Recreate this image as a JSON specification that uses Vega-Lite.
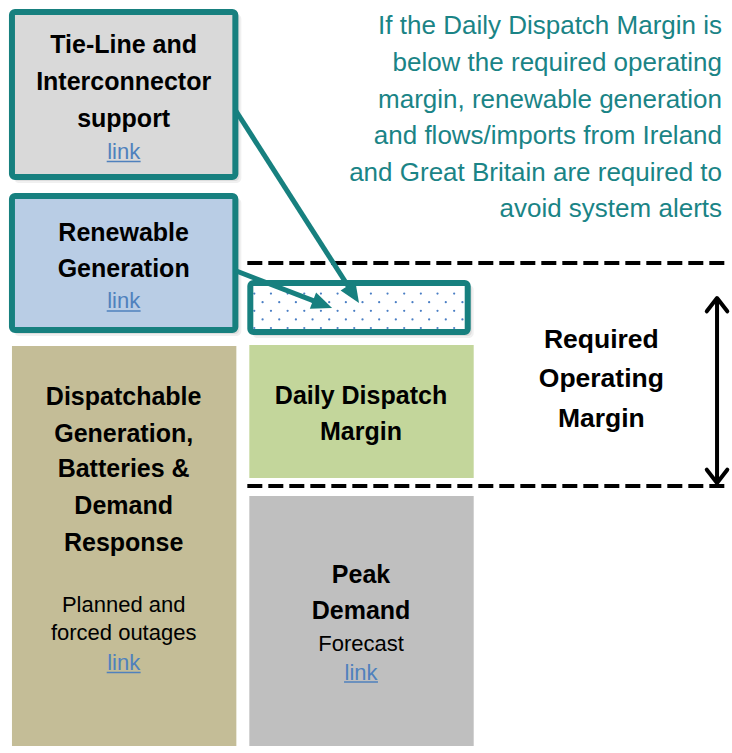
{
  "$schema": "https://vega.github.io/schema/vega-lite/v6.json",
  "width": 732,
  "height": 753,
  "autosize": {"type": "fit", "contains": "padding"},
  "padding": 0,
  "background": "white",
  "config": {"view": {"stroke": null}},
  "datasets": {
    "boxes": [
      {"name": "Tie-Line and Interconnector support", "x": 12, "x2": 236, "y": 12, "y2": 177, "framed": true},
      {"name": "Renewable Generation", "x": 12, "x2": 236, "y": 196, "y2": 330, "framed": true},
      {"name": "Additional support", "x": 251, "x2": 469, "y": 283, "y2": 332, "framed": true},
      {"name": "Dispatchable Generation", "x": 12, "x2": 237, "y": 346, "y2": 746, "framed": false},
      {"name": "Daily Dispatch Margin", "x": 250, "x2": 475, "y": 345, "y2": 478, "framed": false},
      {"name": "Peak Demand", "x": 250, "x2": 475, "y": 496, "y2": 746, "framed": false}
    ],
    "dots": [
      {"x": 263.3, "y": 285}, {"x": 280, "y": 285}, {"x": 296.7, "y": 285}, {"x": 313.4, "y": 285}, {"x": 330.1, "y": 285}, {"x": 346.8, "y": 285}, {"x": 363.5, "y": 285}, {"x": 380.2, "y": 285}, {"x": 396.9, "y": 285}, {"x": 413.6, "y": 285}, {"x": 430.3, "y": 285}, {"x": 447, "y": 285}, {"x": 463.7, "y": 285},
      {"x": 255, "y": 293.6}, {"x": 271.7, "y": 293.6}, {"x": 288.4, "y": 293.6}, {"x": 305.1, "y": 293.6}, {"x": 321.8, "y": 293.6}, {"x": 338.5, "y": 293.6}, {"x": 355.2, "y": 293.6}, {"x": 371.9, "y": 293.6}, {"x": 388.6, "y": 293.6}, {"x": 405.3, "y": 293.6}, {"x": 422, "y": 293.6}, {"x": 438.7, "y": 293.6}, {"x": 455.4, "y": 293.6},
      {"x": 263.3, "y": 302.2}, {"x": 280, "y": 302.2}, {"x": 296.7, "y": 302.2}, {"x": 313.4, "y": 302.2}, {"x": 330.1, "y": 302.2}, {"x": 346.8, "y": 302.2}, {"x": 363.5, "y": 302.2}, {"x": 380.2, "y": 302.2}, {"x": 396.9, "y": 302.2}, {"x": 413.6, "y": 302.2}, {"x": 430.3, "y": 302.2}, {"x": 447, "y": 302.2}, {"x": 463.7, "y": 302.2},
      {"x": 255, "y": 310.8}, {"x": 271.7, "y": 310.8}, {"x": 288.4, "y": 310.8}, {"x": 305.1, "y": 310.8}, {"x": 321.8, "y": 310.8}, {"x": 338.5, "y": 310.8}, {"x": 355.2, "y": 310.8}, {"x": 371.9, "y": 310.8}, {"x": 388.6, "y": 310.8}, {"x": 405.3, "y": 310.8}, {"x": 422, "y": 310.8}, {"x": 438.7, "y": 310.8}, {"x": 455.4, "y": 310.8},
      {"x": 263.3, "y": 319.4}, {"x": 280, "y": 319.4}, {"x": 296.7, "y": 319.4}, {"x": 313.4, "y": 319.4}, {"x": 330.1, "y": 319.4}, {"x": 346.8, "y": 319.4}, {"x": 363.5, "y": 319.4}, {"x": 380.2, "y": 319.4}, {"x": 396.9, "y": 319.4}, {"x": 413.6, "y": 319.4}, {"x": 430.3, "y": 319.4}, {"x": 447, "y": 319.4}, {"x": 463.7, "y": 319.4},
      {"x": 255, "y": 328}, {"x": 271.7, "y": 328}, {"x": 288.4, "y": 328}, {"x": 305.1, "y": 328}, {"x": 321.8, "y": 328}, {"x": 338.5, "y": 328}, {"x": 355.2, "y": 328}, {"x": 371.9, "y": 328}, {"x": 388.6, "y": 328}, {"x": 405.3, "y": 328}, {"x": 422, "y": 328}, {"x": 438.7, "y": 328}, {"x": 455.4, "y": 328}
    ],
    "levels": [
      {"x": 248, "x2": 732, "y": 263},
      {"x": 248, "x2": 732, "y": 486}
    ],
    "shafts": [
      {"x": 236, "y": 110, "x2": 353.5, "y2": 293},
      {"x": 237, "y": 271, "x2": 321.8, "y2": 303.7}
    ],
    "heads": [
      {"x": 360, "y": 303, "dir": 147.3},
      {"x": 333, "y": 308, "dir": 111.1}
    ],
    "span": [{"x": 719, "y": 300, "x2": 719, "y2": 481}],
    "spanHeads": [
      {"x": 719, "y": 298, "dir": 0},
      {"x": 719, "y": 483, "dir": 180}
    ],
    "labels": [
      {"x": 124, "y": 53, "text": "Tie-Line and", "kind": "title"},
      {"x": 124, "y": 90, "text": "Interconnector", "kind": "title"},
      {"x": 124, "y": 127, "text": "support", "kind": "title"},
      {"x": 124, "y": 241, "text": "Renewable", "kind": "title"},
      {"x": 124, "y": 277, "text": "Generation", "kind": "title"},
      {"x": 124, "y": 405, "text": "Dispatchable", "kind": "title"},
      {"x": 124, "y": 442, "text": "Generation,", "kind": "title"},
      {"x": 124, "y": 477, "text": "Batteries &", "kind": "title"},
      {"x": 124, "y": 514, "text": "Demand", "kind": "title"},
      {"x": 124, "y": 551, "text": "Response", "kind": "title"},
      {"x": 362, "y": 404, "text": "Daily Dispatch", "kind": "title"},
      {"x": 362, "y": 440, "text": "Margin", "kind": "title"},
      {"x": 362, "y": 583, "text": "Peak", "kind": "title"},
      {"x": 362, "y": 619, "text": "Demand", "kind": "title"},
      {"x": 603, "y": 348, "text": "Required", "kind": "big"},
      {"x": 603, "y": 387, "text": "Operating", "kind": "big"},
      {"x": 603, "y": 427, "text": "Margin", "kind": "big"},
      {"x": 124, "y": 612, "text": "Planned and", "kind": "body"},
      {"x": 124, "y": 640, "text": "forced outages", "kind": "body"},
      {"x": 362, "y": 651, "text": "Forecast", "kind": "body"},
      {"x": 124, "y": 159, "text": "link", "kind": "link"},
      {"x": 124, "y": 308, "text": "link", "kind": "link"},
      {"x": 124, "y": 670, "text": "link", "kind": "link"},
      {"x": 362, "y": 679.5, "text": "link", "kind": "link"},
      {"x": 724, "y": 34, "text": "If the Daily Dispatch Margin is", "kind": "note"},
      {"x": 724, "y": 71, "text": "below the required operating", "kind": "note"},
      {"x": 724, "y": 108, "text": "margin, renewable generation", "kind": "note"},
      {"x": 724, "y": 144, "text": "and flows/imports from Ireland", "kind": "note"},
      {"x": 724, "y": 181, "text": "and Great Britain are required to", "kind": "note"},
      {"x": 724, "y": 217, "text": "avoid system alerts", "kind": "note"}
    ],
    "underlines": [
      {"x": 107, "x2": 141, "y": 161.5},
      {"x": 107, "x2": 141, "y": 311},
      {"x": 107, "x2": 141, "y": 672.5},
      {"x": 345, "x2": 379, "y": 682}
    ]
  },
  "encoding": {
    "x": {"field": "x", "type": "quantitative", "scale": {"domain": [0, 732], "nice": false, "zero": false}, "axis": null},
    "y": {"field": "y", "type": "quantitative", "scale": {"domain": [0, 753], "nice": false, "zero": false, "reverse": true}, "axis": null}
  },
  "layer": [
    {
      "data": {"name": "boxes"},
      "transform": [{"filter": "datum.framed"}],
      "mark": {"type": "rect", "fill": "#000000", "opacity": 0.06, "cornerRadius": 5, "xOffset": 2, "x2Offset": 6, "yOffset": 2, "y2Offset": 6}
      ,"encoding": {"x2": {"field": "x2"}, "y2": {"field": "y2"}}
    },
    {
      "data": {"name": "boxes"},
      "transform": [{"filter": "datum.framed"}],
      "mark": {"type": "rect", "fill": "#000000", "opacity": 0.08, "cornerRadius": 4, "xOffset": 2, "x2Offset": 4, "yOffset": 2, "y2Offset": 4},
      "encoding": {"x2": {"field": "x2"}, "y2": {"field": "y2"}}
    },
    {
      "data": {"name": "boxes"},
      "mark": {"type": "rect", "cornerRadius": 0},
      "encoding": {
        "x2": {"field": "x2"},
        "y2": {"field": "y2"},
        "color": {
          "field": "name",
          "type": "nominal",
          "legend": null,
          "scale": {
            "domain": ["Tie-Line and Interconnector support", "Renewable Generation", "Additional support", "Dispatchable Generation", "Daily Dispatch Margin", "Peak Demand"],
            "range": ["#d9d9d9", "#b9cde5", "#ffffff", "#c4bd97", "#c3d69b", "#bfbfbf"]
          }
        }
      }
    },
    {
      "data": {"name": "dots"},
      "mark": {"type": "point", "filled": true, "shape": "circle", "size": 5, "color": "#4a7ec4", "opacity": 1}
    },
    {
      "data": {"name": "boxes"},
      "transform": [{"filter": "datum.framed"}],
      "mark": {"type": "rect", "fillOpacity": 0, "stroke": "#17807f", "strokeWidth": 6, "cornerRadius": 3},
      "encoding": {"x2": {"field": "x2"}, "y2": {"field": "y2"}}
    },
    {
      "data": {"name": "levels"},
      "mark": {"type": "rule", "color": "#000000", "strokeWidth": 4, "strokeDash": [15, 6]},
      "encoding": {"x2": {"field": "x2"}}
    },
    {
      "data": {"name": "shafts"},
      "mark": {"type": "rule", "color": "#17807f", "strokeWidth": 5},
      "encoding": {"x2": {"field": "x2"}, "y2": {"field": "y2"}}
    },
    {
      "data": {"name": "heads"},
      "mark": {"type": "point", "filled": true, "shape": "M0,0L0.85,2L-0.85,2Z", "size": 420, "color": "#17807f", "opacity": 1},
      "encoding": {"angle": {"field": "dir", "type": "quantitative", "scale": null}}
    },
    {
      "data": {"name": "span"},
      "mark": {"type": "rule", "color": "#000000", "strokeWidth": 4},
      "encoding": {"x2": {"field": "x2"}, "y2": {"field": "y2"}}
    },
    {
      "data": {"name": "spanHeads"},
      "mark": {"type": "point", "filled": false, "shape": "M-1,1.3L0,0L1,1.3", "size": 420, "stroke": "#000000", "strokeWidth": 4, "strokeCap": "round", "strokeJoin": "round", "opacity": 1},
      "encoding": {"angle": {"field": "dir", "type": "quantitative", "scale": null}}
    },
    {
      "data": {"name": "labels"},
      "transform": [{"filter": "datum.kind == 'title'"}],
      "mark": {"type": "text", "font": "Liberation Sans", "fontWeight": "bold", "fontSize": 25, "align": "center", "baseline": "alphabetic", "color": "#000000"},
      "encoding": {"text": {"field": "text"}}
    },
    {
      "data": {"name": "labels"},
      "transform": [{"filter": "datum.kind == 'big'"}],
      "mark": {"type": "text", "font": "Liberation Sans", "fontWeight": "bold", "fontSize": 26.5, "align": "center", "baseline": "alphabetic", "color": "#000000"},
      "encoding": {"text": {"field": "text"}}
    },
    {
      "data": {"name": "labels"},
      "transform": [{"filter": "datum.kind == 'body'"}],
      "mark": {"type": "text", "font": "Liberation Sans", "fontSize": 22, "align": "center", "baseline": "alphabetic", "color": "#000000"},
      "encoding": {"text": {"field": "text"}}
    },
    {
      "data": {"name": "labels"},
      "transform": [{"filter": "datum.kind == 'link'"}],
      "mark": {"type": "text", "font": "Liberation Sans", "fontSize": 22, "align": "center", "baseline": "alphabetic", "color": "#4f81bd"},
      "encoding": {"text": {"field": "text"}}
    },
    {
      "data": {"name": "labels"},
      "transform": [{"filter": "datum.kind == 'note'"}],
      "mark": {"type": "text", "font": "Liberation Sans", "fontSize": 26, "align": "right", "baseline": "alphabetic", "color": "#1a8486"},
      "encoding": {"text": {"field": "text"}}
    },
    {
      "data": {"name": "underlines"},
      "mark": {"type": "rule", "color": "#4f81bd", "strokeWidth": 1.6},
      "encoding": {"x2": {"field": "x2"}}
    }
  ]
}
